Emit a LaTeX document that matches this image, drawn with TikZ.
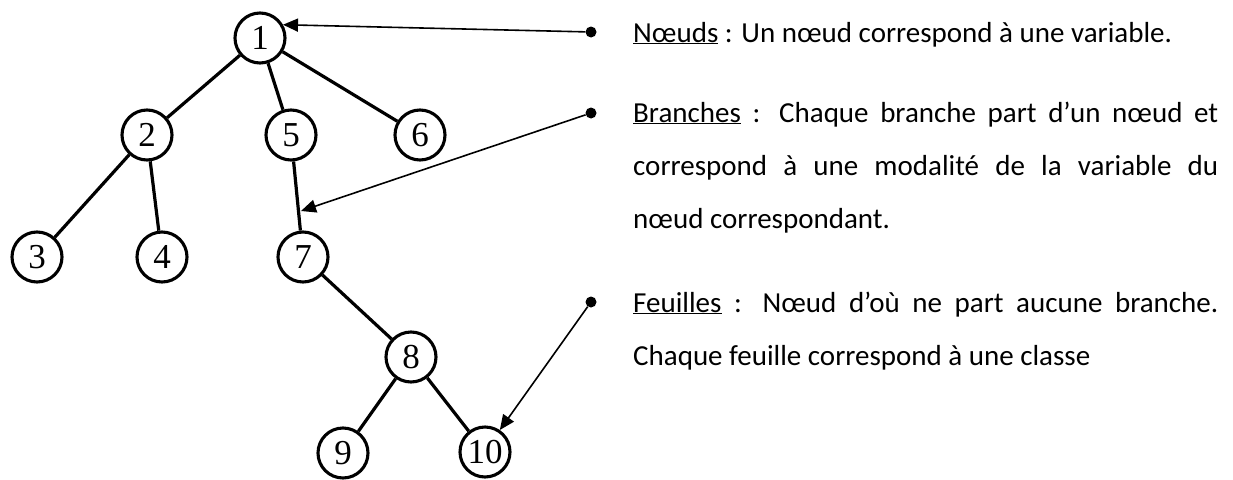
\documentclass[tikz,border=0pt]{standalone}
\usepackage{fontspec}
\setmainfont{Carlito}
\newfontfamily\treefont{Liberation Serif}
\usetikzlibrary{arrows.meta,calc}
\begin{document}
\begin{tikzpicture}[x=1pt,y=-1pt,
  tn/.style={circle,draw,line width=3.1pt,minimum size=50pt,inner sep=0pt,
    font=\treefont\fontsize{35}{35}\selectfont},
  edge/.style={line width=3.2pt},
  pointer/.style={line width=1.6pt,-{Triangle[length=15pt,width=13pt]}},
  bul/.style={circle,fill,inner sep=0pt,minimum size=11pt},
  txt/.style={anchor=base west,inner sep=0pt,font=\fontsize{29}{30}\selectfont}]
\useasboundingbox (0,0) rectangle (1233,479);
% tree nodes
\node[tn] (n1) at (260,38) {1};
\node[tn] (n2) at (147,135) {2};
\node[tn] (n5) at (291,135) {5};
\node[tn] (n6) at (420,135) {6};
\node[tn] (n3) at (37,257) {3};
\node[tn] (n4) at (162,257) {4};
\node[tn] (n7) at (303,257) {7};
\node[tn] (n8) at (411,357) {8};
\node[tn] (n9) at (343,453) {9};
\node[tn] (n10) at (485,452) {10};
% edges
\draw[edge] (n1) -- (n2);
\draw[edge] (n1) -- (n5);
\draw[edge] (n1) -- (n6);
\draw[edge] (n2) -- (n3);
\draw[edge] (n2) -- (n4);
\draw[edge] (n5) -- (n7);
\draw[edge] (n7) -- (n8);
\draw[edge] (n8) -- (n9);
\draw[edge] (n8) -- (n10);
% bullets
\node[bul] (b1) at (591,32) {};
\node[bul] (b2) at (591,113) {};
\node[bul] (b3) at (591,302) {};
% pointers
\coordinate (t2) at (301,211);
\draw[pointer] (b1) -- (n1.30);
\draw[pointer] (b2) -- (t2);
\draw[pointer] (b3) -- (n10.56);
% texts
\node[txt] (l1) at (633,42) {\underline{Nœuds} : Un nœud correspond à une variable.};
\node[txt] (l2) at (633,122) {\makebox[585pt][s]{\underline{Branches} : Chaque branche part d’un nœud et}};
\node[txt] (l3) at (633,175) {\makebox[585pt][s]{correspond à une modalité de la variable du}};
\node[txt] (l4) at (633,228) {nœud correspondant.};
\node[txt] (l5) at (633,312) {\makebox[585pt][s]{\underline{Feuilles} : Nœud d’où ne part aucune branche.}};
\node[txt] (l6) at (633,365) {Chaque feuille correspond à une classe};
\end{tikzpicture}
\end{document}
